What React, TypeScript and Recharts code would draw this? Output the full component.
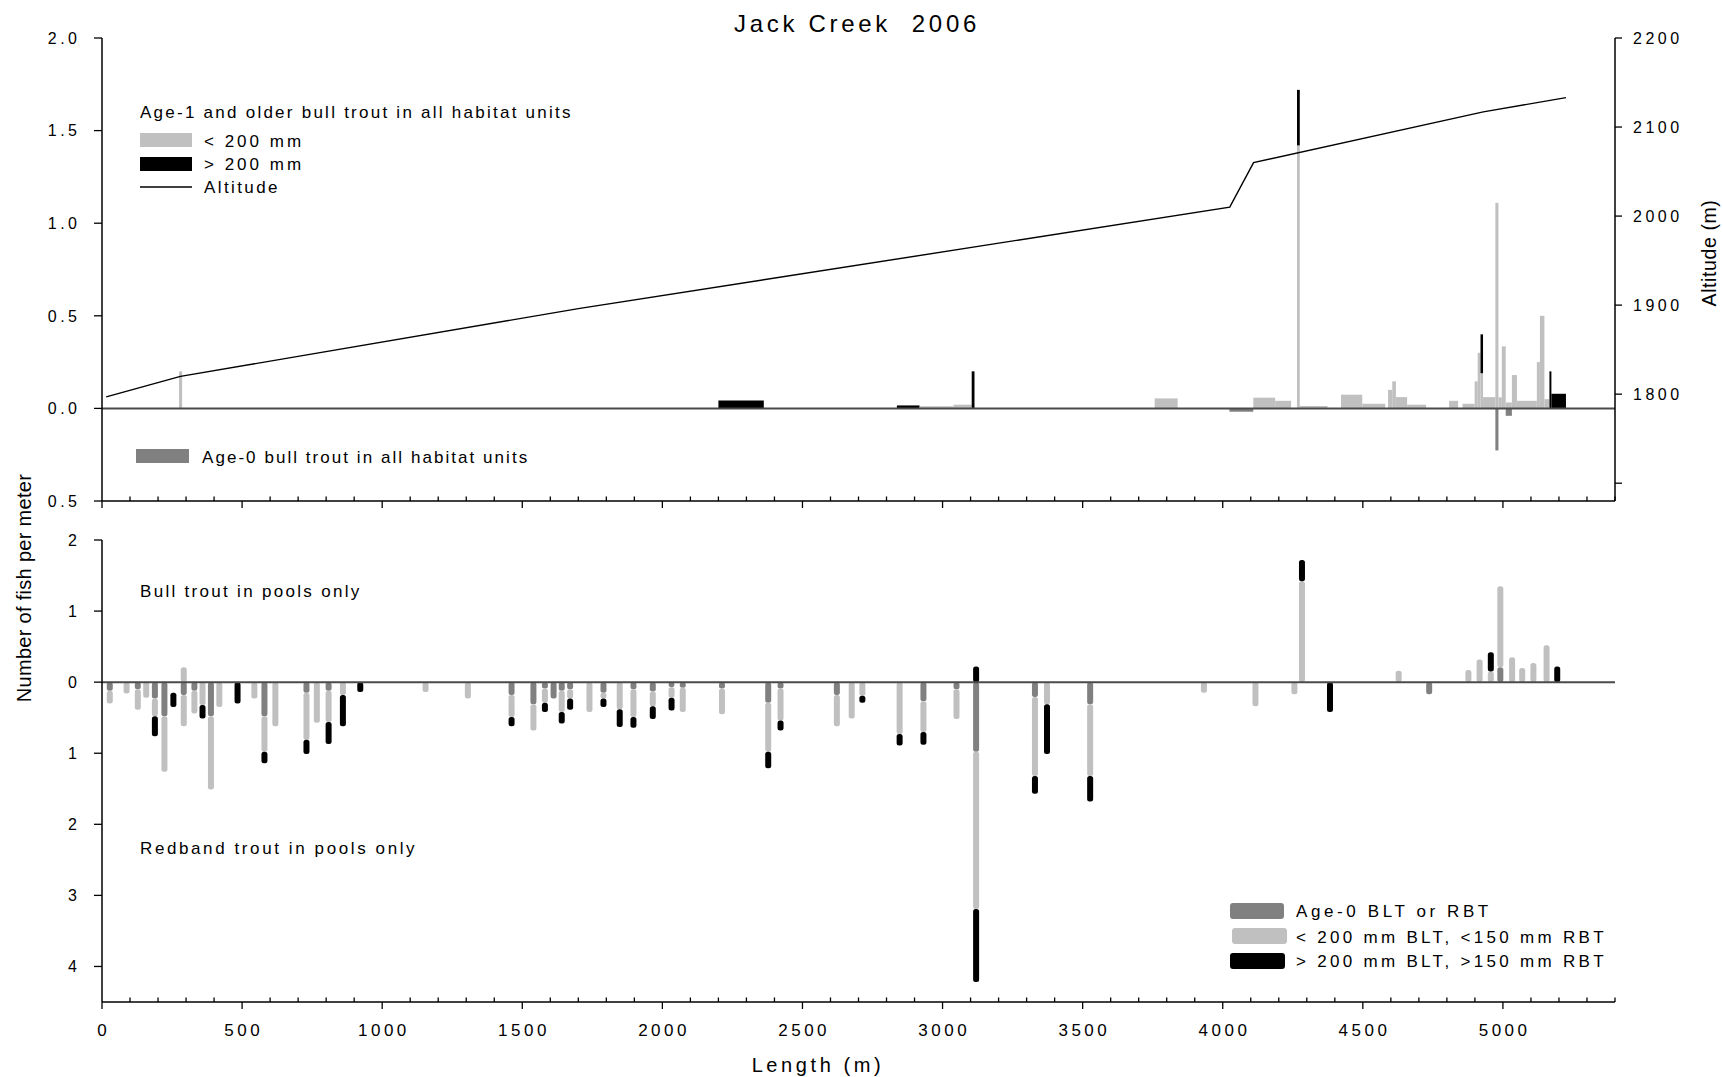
import React from 'react';
import { ComposedChart, XAxis, YAxis, Line, Bar, ReferenceArea, ReferenceLine } from 'recharts';

const FONT = "'Liberation Sans', Arial, sans-serif";
const LIGHT = '#c0c0c0';
const DARK = '#808080';
const BLACK = '#000000';

// altitude profile along the creek (length in m, altitude in m)
const altitudeLength = [15, 280, 1700, 4025, 4110, 4930, 5225];
const altitudeMeters = [1797, 1820, 1896, 2010, 2060, 2117, 2133];

// habitat units (all units): start / end along the creek, fish per meter
const unitStart = [275, 2200, 2837, 2918, 3039, 3104, 3757, 4024, 4109, 4187, 4265, 4275, 4422, 4498, 4590, 4605, 4618, 4658, 4808, 4856, 4899, 4910, 4920, 4929, 4973, 4984, 4996, 5010, 5032, 5050, 5121, 5132, 5148, 5166, 5173];
const unitEnd = [286, 2362, 2918, 3039, 3104, 3114, 3839, 4109, 4187, 4244, 4275, 4374, 4498, 4580, 4605, 4618, 4658, 4726, 4840, 4899, 4910, 4920, 4929, 4973, 4984, 4996, 5010, 5032, 5050, 5121, 5132, 5148, 5166, 5173, 5225];
const unitSmall = [0.2, 0, 0, 0.011, 0.02, 0, 0.054, 0, 0.058, 0.041, 1.42, 0.013, 0.074, 0.025, 0.1, 0.146, 0.061, 0.02, 0.041, 0.025, 0.146, 0.3, 0.19, 0.061, 1.11, 0.06, 0.335, 0.032, 0.18, 0.041, 0.25, 0.5, 0.05, 0, 0];
const unitLarge = [0, 0.042, 0.016, 0, 0, 0.2, 0, 0, 0, 0, 0.3, 0, 0, 0, 0, 0, 0, 0, 0, 0, 0, 0, 0.21, 0, 0, 0, 0, 0, 0, 0, 0, 0, 0, 0.2, 0.079];
const unitAge0 = [0, 0, 0, 0, 0, 0, 0, 0.018, 0, 0, 0, 0, 0, 0, 0, 0, 0, 0, 0, 0, 0, 0, 0, 0, 0.227, 0, 0, 0.04, 0, 0, 0, 0, 0, 0, 0];

// pools only: position along the creek and fish per meter
const poolLength = [27, 87, 127, 157, 188, 222, 254, 291, 329, 358, 388, 418, 483, 543, 579, 618, 729, 766, 808, 859, 921, 1154, 1305, 1461, 1539, 1580, 1611, 1640, 1670, 1739, 1789, 1847, 1896, 1965, 2032, 2072, 2212, 2377, 2421, 2622, 2675, 2713, 2846, 2931, 3049, 3119, 3329, 3372, 3526, 3932, 4116, 4255, 4282, 4382, 4627, 4736, 4876, 4916, 4956, 4990, 5032, 5068, 5108, 5155, 5193];
const rbtAge0 = [0.12, 0, 0.1, 0, 0.23, 0.48, 0, 0.18, 0.12, 0, 0.48, 0, 0, 0, 0.48, 0, 0.15, 0, 0.12, 0, 0, 0, 0, 0.18, 0.31, 0.09, 0.23, 0.12, 0.1, 0, 0.15, 0, 0.1, 0.13, 0.07, 0.08, 0.09, 0.29, 0.09, 0.18, 0, 0, 0, 0.27, 0.1, 0.98, 0.21, 0, 0.31, 0, 0, 0, 0, 0, 0, 0.17, 0, 0, 0, 0, 0, 0, 0, 0, 0];
const rbtSmall = [0.18, 0.16, 0.29, 0.22, 0.25, 0.78, 0, 0.44, 0.32, 0.32, 1.03, 0.35, 0, 0.23, 0.5, 0.62, 0.66, 0.57, 0.44, 0.18, 0, 0.14, 0.23, 0.31, 0.37, 0.2, 0, 0.3, 0.13, 0.42, 0.08, 0.38, 0.39, 0.21, 0.15, 0.34, 0.36, 0.69, 0.45, 0.44, 0.51, 0.19, 0.73, 0.43, 0.42, 2.21, 1.11, 0.31, 1.01, 0.15, 0.34, 0.17, 0, 0, 0, 0, 0, 0, 0, 0, 0, 0, 0, 0, 0];
const rbtGap = [0, 0, 0, 0, 0, 0, 0.15, 0, 0, 0, 0, 0, 0, 0, 0, 0, 0, 0, 0, 0, 0, 0, 0, 0, 0, 0, 0, 0, 0, 0, 0, 0, 0, 0, 0, 0, 0, 0, 0, 0, 0, 0, 0, 0, 0, 0, 0, 0, 0, 0, 0, 0, 0, 0, 0, 0, 0, 0, 0, 0, 0, 0, 0, 0, 0];
const rbtLarge = [0, 0, 0, 0, 0.28, 0, 0.2, 0, 0, 0.19, 0, 0, 0.3, 0, 0.16, 0, 0.2, 0, 0.31, 0.44, 0.14, 0, 0, 0.13, 0, 0.13, 0, 0.16, 0.16, 0, 0.12, 0.25, 0.15, 0.18, 0.18, 0, 0, 0.23, 0.14, 0, 0, 0.1, 0.16, 0.18, 0, 1.03, 0.25, 0.7, 0.36, 0, 0, 0, 0, 0.42, 0, 0, 0, 0, 0, 0, 0, 0, 0, 0, 0];
const bltAge0 = [0, 0, 0, 0, 0, 0, 0, 0, 0, 0, 0, 0, 0, 0, 0, 0, 0, 0, 0, 0, 0, 0, 0, 0, 0, 0, 0, 0, 0, 0, 0, 0, 0, 0, 0, 0, 0, 0, 0, 0, 0, 0, 0, 0, 0, 0, 0, 0, 0, 0, 0, 0, 0, 0, 0, 0, 0, 0, 0, 0.21, 0, 0, 0, 0, 0];
const bltSmall = [0, 0, 0, 0, 0, 0, 0, 0.21, 0, 0, 0, 0, 0, 0, 0, 0, 0, 0, 0, 0, 0, 0, 0, 0, 0, 0, 0, 0, 0, 0, 0, 0, 0, 0, 0, 0, 0, 0, 0, 0, 0, 0, 0, 0, 0, 0, 0, 0, 0, 0, 0, 0, 1.42, 0, 0.16, 0, 0.17, 0.32, 0.15, 1.14, 0.35, 0.2, 0.27, 0.52, 0];
const bltLarge = [0, 0, 0, 0, 0, 0, 0, 0, 0, 0, 0, 0, 0, 0, 0, 0, 0, 0, 0, 0, 0, 0, 0, 0, 0, 0, 0, 0, 0, 0, 0, 0, 0, 0, 0, 0, 0, 0, 0, 0, 0, 0, 0, 0, 0, 0.22, 0, 0, 0, 0, 0, 0, 0.3, 0, 0, 0, 0, 0, 0.27, 0, 0, 0, 0, 0, 0.22];

// axis ticks
const lengthTicks = Array.from({ length: 55 }, (_, i) => i * 100);
const fishTicksTop = [-0.5, 0, 0.5, 1, 1.5, 2];
const altitudeTicks = [1700, 1800, 1900, 2000, 2100, 2200];
const fishTicksBottom = [-4, -3, -2, -1, 0, 1, 2];

const altitudeRows = altitudeLength.map((x, i) => ({ x, alt: altitudeMeters[i] }));

const poolRows = poolLength.map((x, i) => ({
  x,
  rbtAge0: -rbtAge0[i],
  rbtSmall: -rbtSmall[i],
  rbtGap: -rbtGap[i],
  rbtLarge: -rbtLarge[i],
  bltAge0: bltAge0[i],
  bltSmall: bltSmall[i],
  bltLarge: bltLarge[i],
}));

function LengthTick(props: any) {
  const { x, y, payload, labelled } = props;
  const major = payload.value % 500 === 0;
  return (
    <g>
      <line x1={x} x2={x} y1={y} y2={major ? y + 7 : y - 4.5} stroke={BLACK} strokeWidth={1.3} />
      {labelled && major && payload.value <= 5000 && (
        <text x={x + 1.7} y={y + 33.5} textAnchor="middle" fontSize={17} letterSpacing={3.5} fontFamily={FONT} fill={BLACK}>
          {payload.value}
        </text>
      )}
    </g>
  );
}

function ValueTick(props: any) {
  const { x, y, payload, textAnchor, format } = props;
  const label = format(payload.value);
  if (label === '') return null;
  return (
    <text x={x} y={y} dy="0.36em" textAnchor={textAnchor} fontSize={16} letterSpacing={3.5} fontFamily={FONT} fill={BLACK}>
      {label}
    </text>
  );
}

const axisLine = { stroke: BLACK, strokeWidth: 1.5 };
const tickLine = { stroke: BLACK, strokeWidth: 1.3 };

function HabitatPanel() {
  const areas: React.ReactNode[] = [];
  unitStart.forEach((start, i) => {
    const end = unitEnd[i];
    if (unitSmall[i] > 0)
      areas.push(<ReferenceArea key={`s${i}`} yAxisId="fish" x1={start} x2={end} y1={0} y2={unitSmall[i]} fill={LIGHT} fillOpacity={1} stroke="none" />);
    if (unitLarge[i] > 0)
      areas.push(<ReferenceArea key={`l${i}`} yAxisId="fish" x1={start} x2={end} y1={unitSmall[i]} y2={unitSmall[i] + unitLarge[i]} fill={BLACK} fillOpacity={1} stroke="none" />);
    if (unitAge0[i] > 0)
      areas.push(<ReferenceArea key={`a${i}`} yAxisId="fish" x1={start} x2={end} y1={-unitAge0[i]} y2={0} fill={DARK} fillOpacity={1} stroke="none" />);
  });

  return (
    <ComposedChart width={1723} height={520} data={altitudeRows} margin={{ top: 38, right: 0, bottom: 9, left: 0 }}>
      <XAxis
        dataKey="x"
        type="number"
        domain={[0, 5400]}
        allowDataOverflow
        ticks={lengthTicks}
        interval={0}
        height={10}
        tickSize={0}
        tickMargin={0}
        tickLine={false}
        axisLine={axisLine}
        tick={(p: any) => <LengthTick {...p} labelled={false} />}
      />
      <YAxis
        yAxisId="fish"
        type="number"
        domain={[-0.5, 2]}
        allowDataOverflow
        ticks={fishTicksTop}
        interval={0}
        width={102}
        tickSize={8}
        tickMargin={13.5}
        tickLine={tickLine}
        axisLine={axisLine}
        tick={(p: any) => <ValueTick {...p} format={(v: number) => Math.abs(v).toFixed(1)} />}
      />
      <YAxis
        yAxisId="alt"
        orientation="right"
        type="number"
        domain={[1680, 2200]}
        allowDataOverflow
        ticks={altitudeTicks}
        interval={0}
        width={108}
        tickSize={7}
        tickMargin={11}
        tickLine={tickLine}
        axisLine={axisLine}
        tick={(p: any) => <ValueTick {...p} format={(v: number) => (v === 1700 ? '' : String(v))} />}
      />
      <ReferenceLine yAxisId="fish" y={0} stroke="#4a4a4a" strokeWidth={2} />
      {areas}
      <Line yAxisId="alt" dataKey="alt" type="linear" stroke={BLACK} strokeWidth={1.4} dot={false} isAnimationActive={false} />
    </ComposedChart>
  );
}

function PoolPanel() {
  const bar = { stackId: 'p', barSize: 6, radius: 2.5, isAnimationActive: false, yAxisId: 'fish' };
  return (
    <ComposedChart width={1723} height={557} data={poolRows} stackOffset="sign" margin={{ top: 20, right: 108, bottom: 20, left: 0 }}>
      <XAxis
        dataKey="x"
        type="number"
        domain={[0, 5400]}
        allowDataOverflow
        ticks={lengthTicks}
        interval={0}
        height={55}
        tickSize={0}
        tickMargin={0}
        tickLine={false}
        axisLine={axisLine}
        tick={(p: any) => <LengthTick {...p} labelled />}
      />
      <YAxis
        yAxisId="fish"
        type="number"
        domain={[-4.5, 2]}
        allowDataOverflow
        ticks={fishTicksBottom}
        interval={0}
        width={102}
        tickSize={8}
        tickMargin={13.5}
        tickLine={tickLine}
        axisLine={axisLine}
        tick={(p: any) => <ValueTick {...p} format={(v: number) => String(Math.abs(v))} />}
      />
      <ReferenceLine yAxisId="fish" y={0} stroke="#4a4a4a" strokeWidth={2} />
      <Bar {...bar} dataKey="rbtAge0" fill={DARK} />
      <Bar {...bar} dataKey="rbtSmall" fill={LIGHT} />
      <Bar {...bar} dataKey="rbtGap" fill="none" />
      <Bar {...bar} dataKey="rbtLarge" fill={BLACK} />
      <Bar {...bar} dataKey="bltAge0" fill={DARK} />
      <Bar {...bar} dataKey="bltSmall" fill={LIGHT} />
      <Bar {...bar} dataKey="bltLarge" fill={BLACK} />
    </ComposedChart>
  );
}

const label = { fontFamily: FONT, fill: BLACK, fontSize: 17, letterSpacing: 2.25 } as const;

export default function App() {
  return (
    <div style={{ position: 'absolute', left: 0, top: 0, width: 1723, height: 1077, background: '#fff', fontFamily: FONT }}>
      <div style={{ position: 'absolute', left: 0, top: 0 }}>
        <HabitatPanel />
      </div>
      <div style={{ position: 'absolute', left: 0, top: 520 }}>
        <PoolPanel />
      </div>
      <svg width={1723} height={1077} style={{ position: 'absolute', left: 0, top: 0, pointerEvents: 'none' }}>
        <text x={857} y={32} textAnchor="middle" fontFamily={FONT} fontSize={24} letterSpacing={3.7} style={{ whiteSpace: 'pre' }}>
          Jack Creek  2006
        </text>

        <text x={140} y={118} {...label}>Age-1 and older bull trout in all habitat units</text>
        <rect x={140} y={133} width={52} height={14} fill={LIGHT} />
        <text x={204} y={147} {...label} letterSpacing={3}>{'< 200 mm'}</text>
        <rect x={140} y={157} width={52} height={14} fill={BLACK} />
        <text x={204} y={170} {...label} letterSpacing={3}>{'> 200 mm'}</text>
        <line x1={140} x2={192} y1={187} y2={187} stroke={BLACK} strokeWidth={1.3} />
        <text x={204} y={193} {...label} letterSpacing={2.4}>Altitude</text>

        <rect x={136} y={449} width={53} height={14} fill={DARK} />
        <text x={202} y={463} {...label} letterSpacing={2.05}>Age-0 bull trout in all habitat units</text>

        <text x={140} y={597} {...label} letterSpacing={2.3}>Bull trout in pools only</text>
        <text x={140} y={854} {...label} letterSpacing={2.6}>Redband trout in pools only</text>

        <rect x={1230} y={903} width={54} height={16} rx={3} fill={DARK} />
        <text x={1296} y={917} {...label} letterSpacing={3.6}>Age-0 BLT or RBT</text>
        <rect x={1232} y={928} width={55} height={16} rx={3} fill={LIGHT} />
        <text x={1296} y={943} {...label} letterSpacing={3.3}>{'< 200 mm BLT, <150 mm RBT'}</text>
        <rect x={1230} y={953} width={55} height={16} rx={3} fill={BLACK} />
        <text x={1296} y={967} {...label} letterSpacing={3.3}>{'> 200 mm BLT, >150 mm RBT'}</text>

        <text x={818} y={1072} textAnchor="middle" fontFamily={FONT} fontSize={20} letterSpacing={3.6}>Length (m)</text>
        <text transform="translate(31,588) rotate(-90)" textAnchor="middle" fontFamily={FONT} fontSize={20} letterSpacing={0.3}>
          Number of fish per meter
        </text>
        <text transform="translate(1716,253) rotate(-90)" textAnchor="middle" fontFamily={FONT} fontSize={19.5} letterSpacing={0.6}>
          Altitude (m)
        </text>
      </svg>
    </div>
  );
}
